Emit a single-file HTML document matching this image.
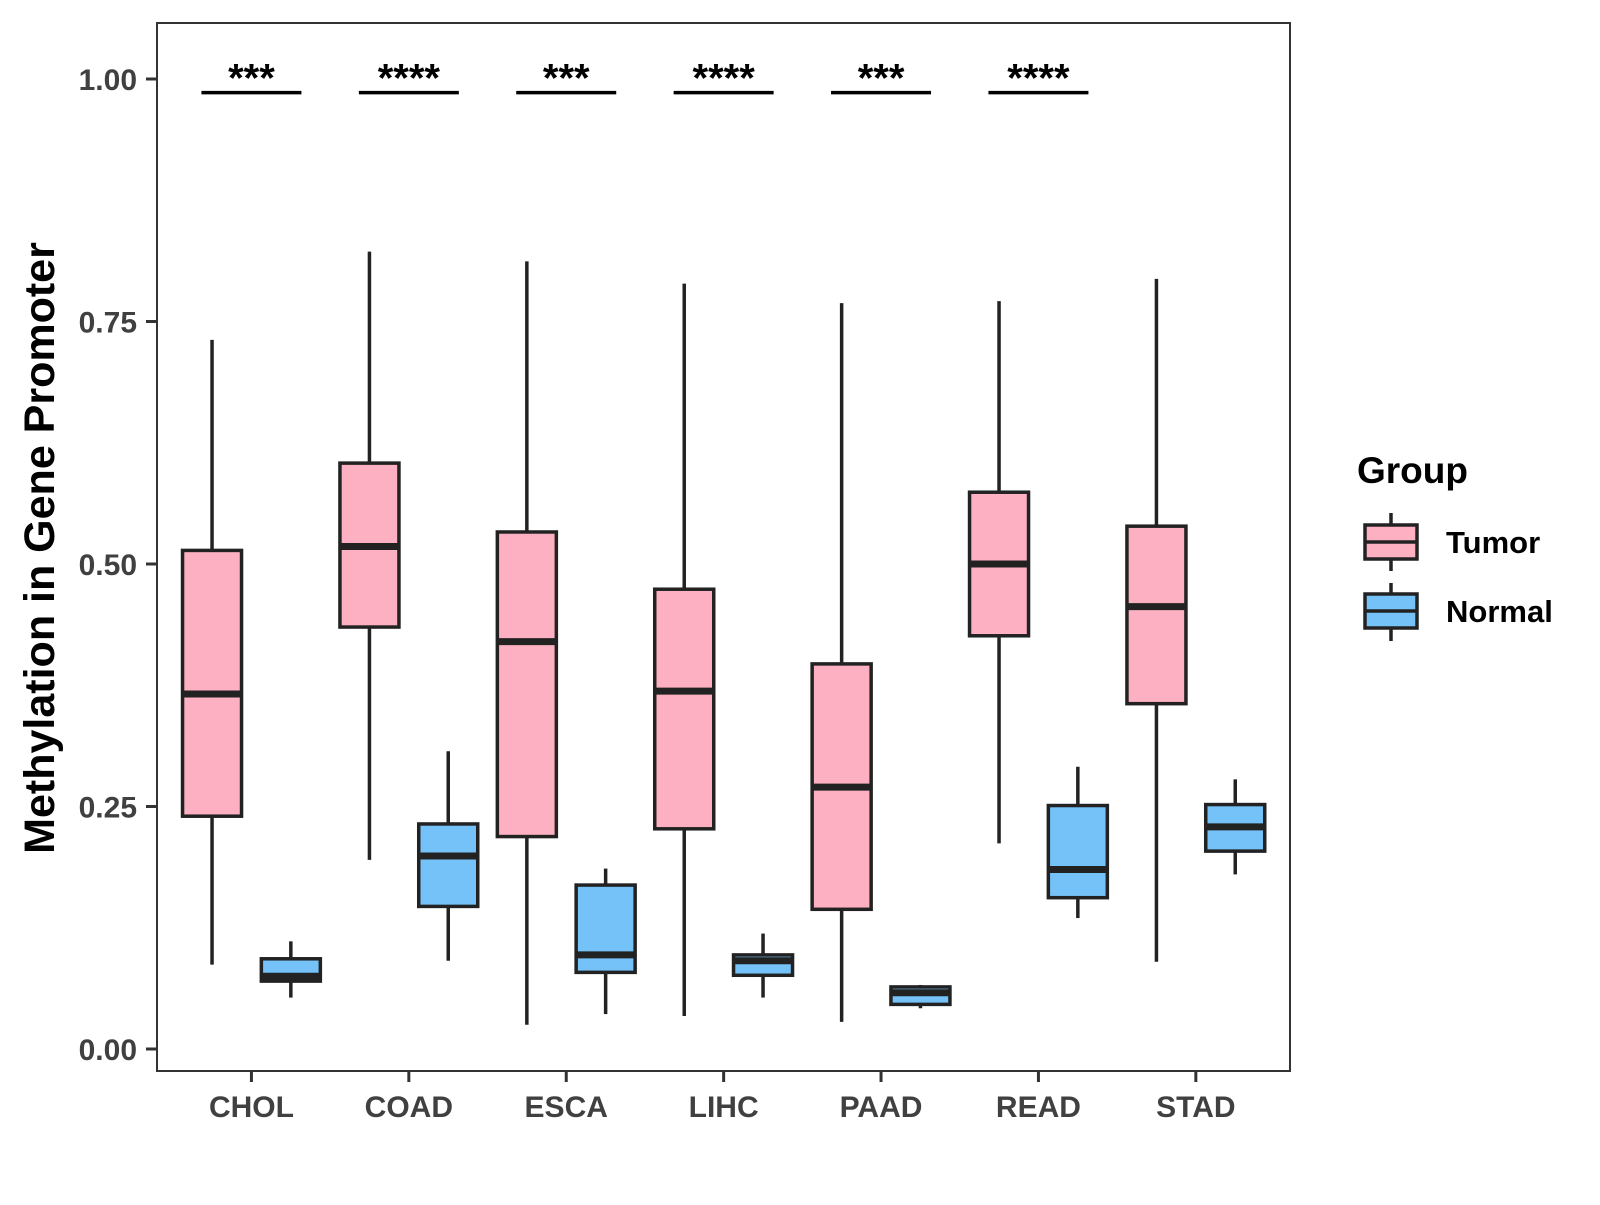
<!DOCTYPE html>
<html><head><meta charset="utf-8"><style>
body{margin:0;background:#fff}
svg text{font-family:"Liberation Sans",Arial,sans-serif;font-weight:bold}
</style></head><body>
<svg id="chart" width="1600" height="1200" viewBox="0 0 1600 1200">
<rect x="157" y="23" width="1133" height="1048" fill="#fff" stroke="#333" stroke-width="2"/>
<g id="marks"></g>
<g id="axes"></g>
<text transform="translate(54,548) rotate(-90)" text-anchor="middle" font-size="43" fill="#000">Methylation in Gene Promoter</text>
<g>
<text x="1357" y="483" font-size="37" fill="#000">Group</text>
<g>
<line x1="1391" y1="513" x2="1391" y2="571" stroke="#222" stroke-width="3.5"/>
<rect x="1365" y="525" width="52" height="34" fill="#FDB0C1" stroke="#222" stroke-width="3.5"/>
<line x1="1365" y1="542" x2="1417" y2="542" stroke="#222" stroke-width="3.5"/>
<text x="1446" y="553" font-size="31" fill="#000">Tumor</text></g>
<g>
<line x1="1391" y1="583" x2="1391" y2="641" stroke="#222" stroke-width="3.5"/>
<rect x="1365" y="594" width="52" height="34" fill="#75C2F8" stroke="#222" stroke-width="3.5"/>
<line x1="1365" y1="611" x2="1417" y2="611" stroke="#222" stroke-width="3.5"/>
<text x="1446" y="622" font-size="31" fill="#000">Normal</text></g>
</g>
</svg>
<script>
const categories=["CHOL","COAD","ESCA","LIHC","PAAD","READ","STAD"];
const tumorStats=[[0.087,0.240,0.366,0.514,0.731],[0.195,0.435,0.518,0.604,0.822],[0.025,0.219,0.420,0.533,0.812],[0.034,0.227,0.369,0.474,0.789],[0.028,0.144,0.270,0.397,0.769],[0.212,0.426,0.500,0.574,0.771],[0.090,0.356,0.456,0.539,0.794]];
const normalStats=[[0.053,0.070,0.075,0.093,0.111],[0.091,0.147,0.199,0.232,0.307],[0.036,0.079,0.097,0.169,0.186],[0.053,0.076,0.091,0.097,0.119],[0.042,0.046,0.058,0.064,0.066],[0.135,0.156,0.185,0.251,0.291],[0.180,0.204,0.229,0.252,0.278]];
const sigLabels=["***","****","***","****","***","****",""];
const yTicks=[0,0.25,0.5,0.75,1.0];
const yTickLabels=["0.00","0.25","0.50","0.75","1.00"];
const NS="http://www.w3.org/2000/svg";
const y=v=>1049-v*970;
const x=i=>157+(i+0.6)*157.4;
const marks=document.getElementById('marks'),axes=document.getElementById('axes');
function mk(p,tag,a){const e=document.createElementNS(NS,tag);for(const k in a)e.setAttribute(k,a[k]);p.appendChild(e);return e;}
function box(s,cx,fill,name){
 const g=mk(marks,'g',{});
 
 
 const hw=29.5;
 mk(g,'line',{x1:cx,x2:cx,y1:y(s[4]),y2:y(s[3]),stroke:'#222','stroke-width':3.5});
 mk(g,'line',{x1:cx,x2:cx,y1:y(s[1]),y2:y(s[0]),stroke:'#222','stroke-width':3.5});
 mk(g,'rect',{x:cx-hw,y:y(s[3]),width:2*hw,height:y(s[1])-y(s[3]),fill:fill,stroke:'#222','stroke-width':3.5});
 mk(g,'line',{x1:cx-hw,x2:cx+hw,y1:y(s[2]),y2:y(s[2]),stroke:'#222','stroke-width':7});
}
categories.forEach((c,i)=>{
 box(tumorStats[i],x(i)-39.4,'#FDB0C1','box-tumor-'+c.toLowerCase());
 box(normalStats[i],x(i)+39.4,'#75C2F8','box-normal-'+c.toLowerCase());
 const t=mk(axes,'line',{x1:x(i),x2:x(i),y1:1071,y2:1082,stroke:'#333','stroke-width':3});
 
 
 const l=mk(axes,'text',{x:x(i),y:1117,'text-anchor':'middle','font-size':30,fill:'#404040'});
 l.textContent=c;
 
 
 if(sigLabels[i]){
  const b=mk(marks,'line',{x1:x(i)-50,x2:x(i)+50,y1:y(0.986),y2:y(0.986),stroke:'#000','stroke-width':3.5});
  
  
  const s=mk(marks,'text',{x:x(i),y:y(0.986)-1,'text-anchor':'middle','font-size':40,fill:'#000'});
  s.textContent=sigLabels[i];
  
  
 }
});
yTicks.forEach((v,i)=>{
 const t=mk(axes,'line',{x1:146,x2:157,y1:y(v),y2:y(v),stroke:'#333','stroke-width':3});
 
 
 const l=mk(axes,'text',{x:137,y:y(v)+11,'text-anchor':'end','font-size':30,fill:'#404040'});
 l.textContent=yTickLabels[i];
 
 
});
</script>
</body></html>
